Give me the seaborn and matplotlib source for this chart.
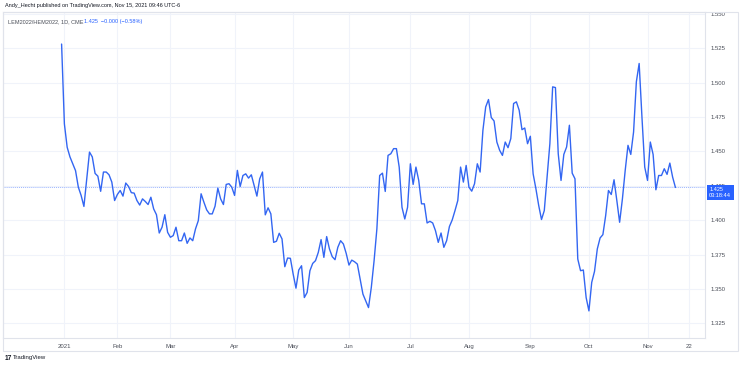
import numpy as np
import pandas as pd
import matplotlib
matplotlib.use("Agg")
import matplotlib.pyplot as plt
import matplotlib.transforms as mtransforms
from matplotlib.patches import Rectangle
import seaborn as sns

# LEM2022/HEM2022 ratio, daily closes (one value per trading day)
dec31_vals = [1.528]
jan_vals = [1.470, 1.453, 1.446, 1.441, 1.436, 1.424, 1.418, 1.410, 1.430, 1.4495,
            1.446, 1.434, 1.432, 1.421, 1.435, 1.435, 1.433, 1.4277, 1.4143]
feb_vals = [1.4187, 1.4216, 1.4175, 1.427, 1.4245, 1.420, 1.4197, 1.4143, 1.411, 1.4155,
            1.4136, 1.4114, 1.4167, 1.4082, 1.404, 1.3907, 1.3949, 1.404, 1.3912]
mar_vals = [1.3876, 1.3888, 1.3949, 1.3851, 1.3851, 1.3907, 1.3832, 1.3871, 1.3851, 1.3937,
            1.3997, 1.4192, 1.4131, 1.4075, 1.4046, 1.4046, 1.4102, 1.4233, 1.4155, 1.4114,
            1.426, 1.4265, 1.424]
apr_vals = [1.418, 1.4362, 1.4245, 1.4325, 1.4337, 1.4306, 1.433, 1.4252, 1.4175, 1.430,
            1.435, 1.4039, 1.409, 1.4046, 1.3839, 1.3847, 1.3905, 1.3864, 1.3662, 1.3725,
            1.3723]
may_vals = [1.3608, 1.3506, 1.3638, 1.3669, 1.3438, 1.3475, 1.3633, 1.3686, 1.3706, 1.3766,
            1.3859, 1.373, 1.3881, 1.3791, 1.3735, 1.3713, 1.3803, 1.3851, 1.3827, 1.3759]
jun_vals = [1.3674, 1.371, 1.3698, 1.3681, 1.3572, 1.3463, 1.3414, 1.3365, 1.3511, 1.3706,
            1.3937, 1.4325, 1.4342, 1.4209, 1.4471, 1.4483, 1.452, 1.452, 1.4386, 1.4094,
            1.4009, 1.4094]
jul_vals = [1.441, 1.426, 1.4386, 1.4289, 1.4119, 1.4119, 1.398, 1.3992, 1.398, 1.3924,
            1.3839, 1.3907, 1.3803, 1.3851, 1.3954, 1.4002, 1.407, 1.4143, 1.4386, 1.4277,
            1.4398]
aug_vals = [1.424, 1.4211, 1.4265, 1.441, 1.435, 1.4653, 1.4823, 1.4877, 1.4746, 1.4721,
            1.4568, 1.4508, 1.4471, 1.4568, 1.4527, 1.4593, 1.4848, 1.486, 1.4799, 1.4658,
            1.467, 1.4556]
sep_vals = [1.461, 1.4337, 1.4228, 1.4107, 1.4005, 1.407, 1.4313, 1.4556, 1.4969, 1.4964,
            1.4483, 1.4289, 1.4478, 1.4532, 1.469, 1.4342, 1.4301, 1.3718, 1.3633, 1.3638,
            1.3438]
oct_vals = [1.3341, 1.3548, 1.3628, 1.3791, 1.3871, 1.3895, 1.4034, 1.4216, 1.4187, 1.4294,
            1.4143, 1.3985, 1.4155, 1.4362, 1.4544, 1.4478, 1.4641, 1.5006, 1.5139, 1.475,
            1.4386]
nov_vals = [1.4289, 1.4568, 1.4478, 1.4221, 1.4325, 1.4325, 1.4374, 1.4333, 1.4415, 1.4313,
            1.4238]

holidays = ["2021-01-01", "2021-01-18", "2021-02-15", "2021-04-02", "2021-05-31",
            "2021-07-05", "2021-09-06"]
month_labels = ["2021", "Feb", "Mar", "Apr", "May", "Jun", "Jul", "Aug", "Sep", "Oct", "Nov", "22"]

values = (dec31_vals + jan_vals + feb_vals + mar_vals + apr_vals + may_vals + jun_vals
          + jul_vals + aug_vals + sep_vals + oct_vals + nov_vals)

# trading-day calendar (bar index = position on the time axis, like TradingView)
cal = pd.bdate_range("2020-12-31", "2021-11-22")
cal = cal[~cal.isin(pd.to_datetime(holidays))]
df = pd.DataFrame({"date": cal[:len(values)], "ratio": values})
df["bar"] = np.arange(len(df))

# tick positions: first trading day of each month, plus Nov 22
month_start = [i for i in range(1, len(cal)) if cal[i].month != cal[i - 1].month]
tick_pos = month_start + [len(cal) - 1]

sns.set_style("white")
plt.rcParams["font.family"] = ["Liberation Sans", "DejaVu Sans"]

blue = "#2962ff"
grid_c = "#f0f3fa"
border_c = "#e0e3eb"
text_c = "#4a4e58"
fs = 4.3

fig = plt.figure(figsize=(7.41, 3.67), dpi=100)
ax = fig.add_axes([3 / 741, 1 - 338 / 367, 702 / 741, 326 / 367])

sns.lineplot(data=df, x="bar", y="ratio", ax=ax, color="#3366f2", linewidth=1.0)

last = values[-1]
ax.axhline(last, color="#9db6ff", linewidth=0.7, linestyle=(0, (1, 1)), zorder=1)

ax.set_xlim(-21, 230.6)
ax.set_ylim(1.3144, 1.5513)
ax.set_xticks(tick_pos)
ax.set_xticklabels(month_labels)
yt = np.arange(1.325, 1.5501, 0.025)
ax.set_yticks(yt)
ax.set_yticklabels([f"{v:.3f}" for v in yt])
ax.yaxis.tick_right()
ax.tick_params(axis="both", length=0, labelsize=fs, colors=text_c)
ax.tick_params(axis="y", pad=4)
ax.tick_params(axis="x", pad=4)
ax.grid(True, color=grid_c, linewidth=0.8)
ax.set_axisbelow(True)
ax.set_xlabel("")
ax.set_ylabel("")
for s in ax.spines.values():
    s.set_color(border_c)
    s.set_linewidth(0.8)

# last price badge on the price scale
trans = mtransforms.blended_transform_factory(ax.transAxes, ax.transData)
trans = trans + mtransforms.ScaledTranslation(0, -0.05, fig.dpi_scale_trans)
ax.text(1.006, last, "1.425\n03:18:44", transform=trans, ha="left", va="center",
        fontsize=4.0, color="white", linespacing=1.05, clip_on=False, zorder=5,
        bbox=dict(boxstyle="square,pad=0.45", fc=blue, ec="none"))

# outer frame round chart + axes
fig.patches.append(Rectangle((3 / 741, 1 - 351 / 367), 735 / 741, 339 / 367,
                             transform=fig.transFigure, fill=False, ec=border_c, lw=0.8))

fig.text(5 / 741, 1 - 6 / 367, "Andy_Hecht published on TradingView.com, Nov 15, 2021 09:46 UTC-6",
         fontsize=4.0, color="#131722", va="center")
ax.text(0.007, 0.978, "LEM2022/HEM2022, 1D, CME", transform=ax.transAxes,
        fontsize=4.0, color=text_c, va="top")
ax.text(0.116, 0.978, "1.425  \u22120.000 (\u22120.58%)", transform=ax.transAxes,
        fontsize=4.0, color=blue, va="top")

fig.text(5 / 741, 1 - 358 / 367, "17", fontsize=4.8, fontweight="bold", color="#131722", va="center")
fig.text(13 / 741, 1 - 358 / 367, "TradingView", fontsize=fs, color="#131722", va="center")

fig.savefig("out.png", dpi=100, facecolor="white")
